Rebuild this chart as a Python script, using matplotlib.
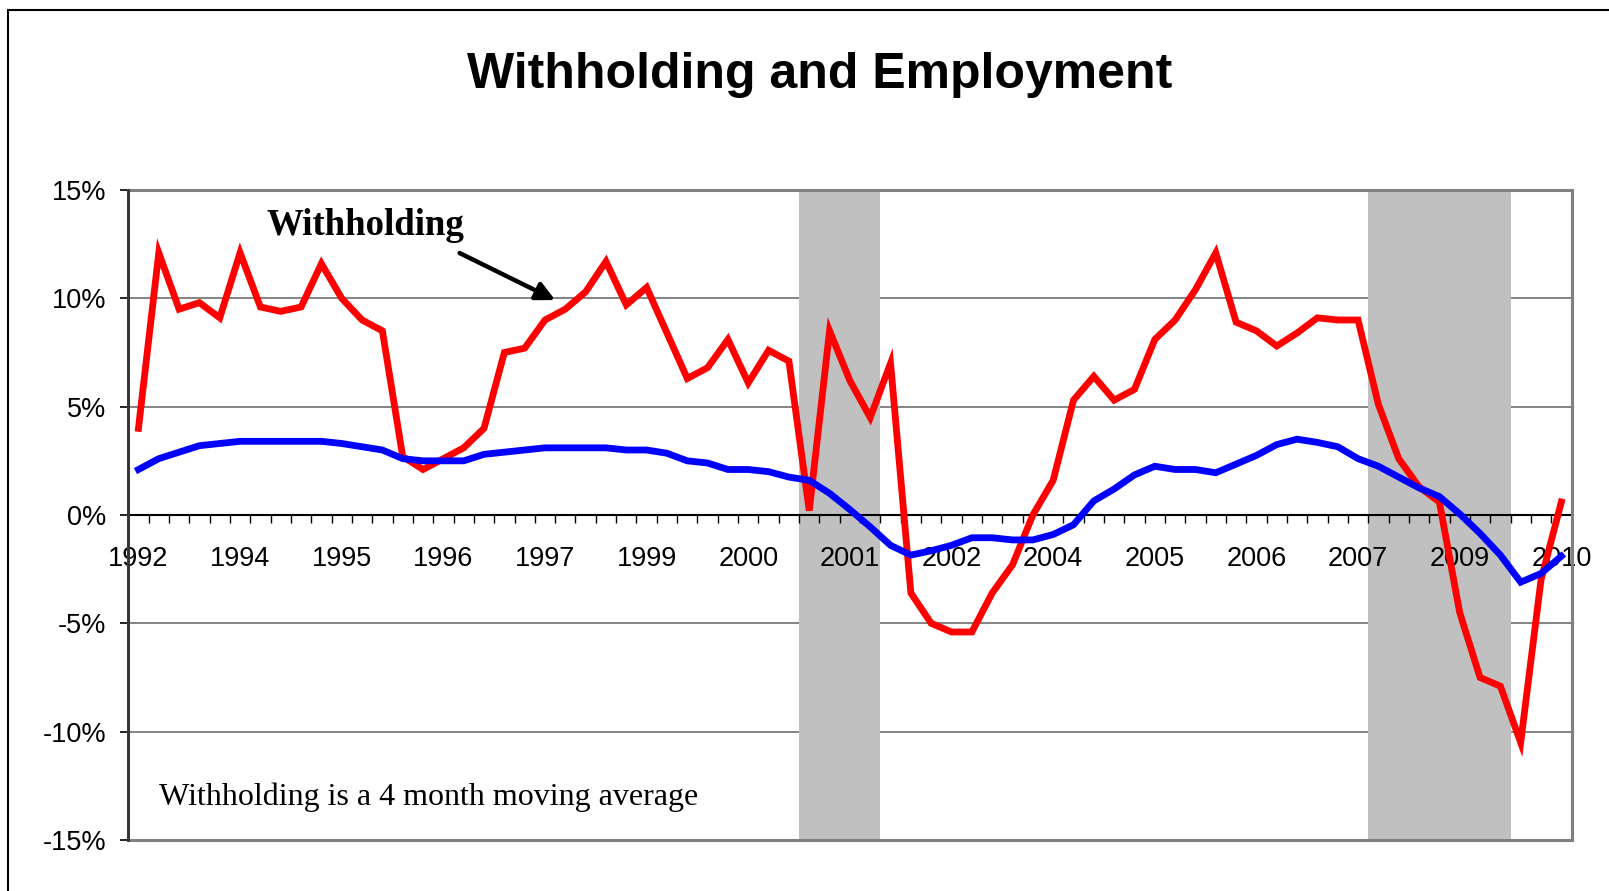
import matplotlib
matplotlib.use("Agg")
import matplotlib.pyplot as plt
from matplotlib.patches import Rectangle

# ======================== DATA ======================================

# one value per quarter-ish category (percent)
withholding = [4.0, 12.1, 9.5, 9.8, 9.1, 12.1, 9.6, 9.4, 9.6, 11.6,
               10.0, 9.0, 8.5, 2.7, 2.1, 2.6, 3.1, 4.0, 7.5, 7.7,
               9.0, 9.5, 10.3, 11.7, 9.7, 10.5, 8.4, 6.3, 6.8, 8.1,
               6.1, 7.6, 7.1, 0.2, 8.5, 6.2, 4.5, 7.0, -3.6, -5.0,
               -5.4, -5.4, -3.6, -2.3, 0.0, 1.6, 5.3, 6.4, 5.3, 5.8,
               8.1, 9.0, 10.4, 12.1, 8.9, 8.5, 7.8, 8.4, 9.1, 9.0,
               9.0, 5.1, 2.6, 1.3, 0.6, -4.5, -7.5, -7.9, -10.5, -3.0,
               0.6]

employment = [2.1, 2.6, 2.9, 3.2, 3.3, 3.4, 3.4, 3.4, 3.4, 3.4,
              3.3, 3.15, 3.0, 2.6, 2.5, 2.5, 2.5, 2.8, 2.9, 3.0,
              3.1, 3.1, 3.1, 3.1, 3.0, 3.0, 2.85, 2.5, 2.4, 2.1,
              2.1, 2.0, 1.75, 1.6, 1.0, 0.25, -0.55, -1.4, -1.85, -1.65,
              -1.4, -1.05, -1.05, -1.15, -1.15, -0.9, -0.45, 0.65, 1.2, 1.85,
              2.25, 2.1, 2.1, 1.95, 2.35, 2.75, 3.25, 3.5, 3.35, 3.15,
              2.6, 2.25, 1.75, 1.25, 0.85, 0.05, -0.85, -1.85, -3.1, -2.7,
              -1.9]

# 1 = recession (grey band)
recession = [0, 0, 0, 0, 0, 0, 0, 0, 0, 0,
             0, 0, 0, 0, 0, 0, 0, 0, 0, 0,
             0, 0, 0, 0, 0, 0, 0, 0, 0, 0,
             0, 0, 0, 1, 1, 1, 1, 0, 0, 0,
             0, 0, 0, 0, 0, 0, 0, 0, 0, 0,
             0, 0, 0, 0, 0, 0, 0, 0, 0, 0,
             0, 1, 1, 1, 1, 1, 1, 1, 0, 0,
             0]

tick_labels = ["1992", "1994", "1995", "1996", "1997", "1999", "2000", "2001",
               "2002", "2004", "2005", "2006", "2007", "2009", "2010"]
label_step = 5
y_ticks = [-15, -10, -5, 0, 5, 10, 15]

# ======================== PLOT ======================================

n = len(withholding)
x = list(range(n))

fig = plt.figure(figsize=(16.09, 8.91), dpi=100)
ax = fig.add_axes([128.3 / 1609, 1 - 840 / 891, 1443.2 / 1609, 650 / 891])

# outer chart frame
fig.patches.append(Rectangle((8 / 1609, -0.1), 2, 1.1 - 10 / 891, transform=fig.transFigure,
                             fill=False, edgecolor="black", lw=1.5))

# grid lines (below the grey bands)
for yv in y_ticks:
    if yv != 0:
        ax.axhline(yv, color="#6e6e6e", lw=1.2, zorder=0.5)

# recession bands
rec_x = [i for i in x if recession[i]]
ax.bar(rec_x, [30] * len(rec_x), bottom=-15, width=1.0, color="#C0C0C0", zorder=1)

ax.plot(x, withholding, color="#FF0000", lw=4.9, zorder=3, solid_joinstyle="miter")
ax.plot(x, employment, color="#0000FF", lw=4.9, zorder=3.1, solid_joinstyle="miter")

ax.set_xlim(-0.5, n - 0.5)
ax.set_ylim(-15, 15)

# spines
for s in ["top", "right"]:
    ax.spines[s].set_visible(False)
ax.spines["bottom"].set_position(("data", 0))
ax.spines["bottom"].set_color("black")
ax.spines["bottom"].set_linewidth(1.5)
ax.spines["left"].set_color("#333333")
ax.spines["left"].set_linewidth(2)
ax.spines["left"].set_zorder(5)
ax.add_patch(Rectangle((0, 0), 1, 1, transform=ax.transAxes, fill=False,
                       edgecolor="#808080", lw=2.2, zorder=4, clip_on=False))

# x ticks: labels every 5 categories, marks at category boundaries
ax.set_xticks(x[::label_step])
ax.set_xticklabels(tick_labels, fontsize=19.5, fontfamily="Liberation Sans")
ax.set_xticks([i - 0.5 for i in range(n + 1)], minor=True)
ax.tick_params(axis="x", which="major", length=0, pad=22)
ax.tick_params(axis="x", which="minor", direction="out", length=5.5, width=1, color="black")

ax.set_yticks(y_ticks)
ax.set_yticklabels([f"{v}%" for v in y_ticks], fontsize=19.5, fontfamily="Liberation Sans")
ax.tick_params(axis="y", direction="out", length=6, width=1.2, color="black", pad=10)

# title and notes
fig.text(0.5095, 1 - 88 / 891, "Withholding and Employment", ha="center", va="baseline",
         fontsize=36, fontweight="bold", fontfamily="Liberation Sans")
ax.text(0.0959, 0.9308, "Withholding", transform=ax.transAxes, ha="left", va="baseline",
        fontsize=26.6, fontweight="bold", fontfamily="Liberation Serif", zorder=6)
ax.annotate("", xy=(20.5, 9.92), xytext=(15.8, 12.09),
            arrowprops=dict(arrowstyle="-|>", color="black", lw=3.2, mutation_scale=28,
                            shrinkA=0, shrinkB=0), zorder=6)
ax.text(0.0213, 0.0538, "Withholding is a 4 month moving average", transform=ax.transAxes,
        ha="left", va="baseline", fontsize=23, fontfamily="Liberation Serif", zorder=6)

fig.savefig("out.png", dpi=100)
